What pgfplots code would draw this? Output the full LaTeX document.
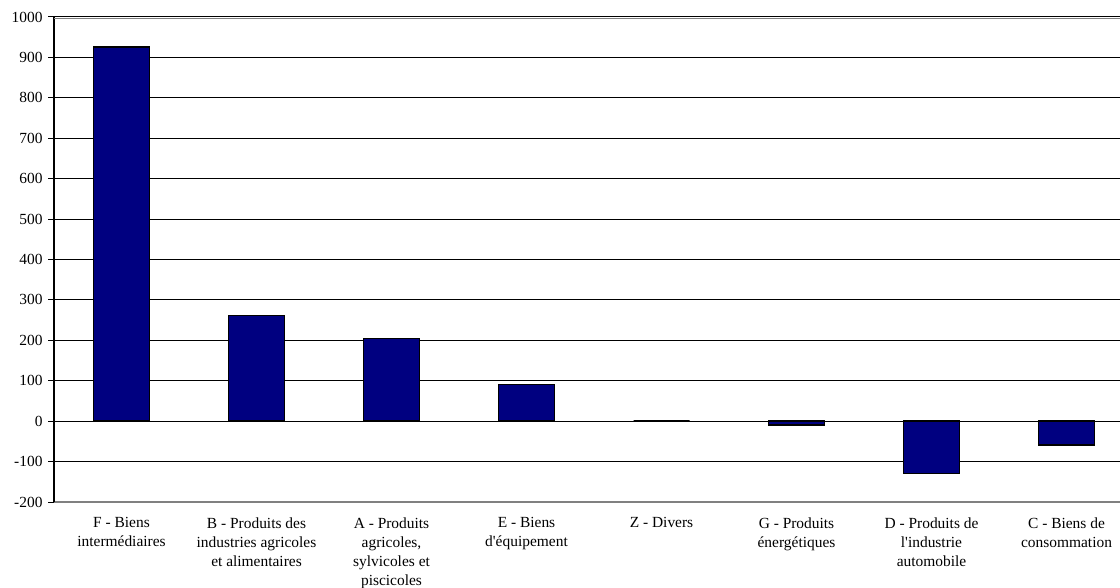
\documentclass[border=0pt]{standalone}
\usepackage{pgfplots}
\pgfplotsset{compat=1.18}
\usepackage{fontspec}
\setmainfont{Liberation Serif}
\definecolor{barblue}{HTML}{000080}
\begin{document}
\begin{tikzpicture}
\begin{axis}[
  scale only axis,
  width=1080bp, height=485bp,
  xmin=-0.5, xmax=7.5,
  ymin=-200, ymax=1000,
  ytick={-200,-100,0,100,200,300,400,500,600,700,800,900,1000},
  yticklabels={-200,-100,0,100,200,300,400,500,600,700,800,900,1000},
  xtick={0,...,7},
  xticklabels={
    {F - Biens\\intermédiaires},
    {B - Produits des\\industries agricoles\\et alimentaires},
    {A - Produits\\agricoles,\\sylvicoles et\\piscicoles},
    {E - Biens\\d\textquotesingle équipement},
    {Z - Divers},
    {G - Produits\\énergétiques},
    {D - Produits de\\l\textquotesingle industrie\\automobile},
    {C - Biens de\\consommation}},
  xticklabel style={align=center, font=\fontsize{15.5}{19}\selectfont, yshift=-6bp},
  yticklabel style={font=\fontsize{15.5}{17}\selectfont, xshift=-2bp},
  major x tick style={draw=none},
  ymajorgrids,
  grid style={black, line width=1bp},
  axis lines*=left,
  x axis line style={-, gray, line width=1.2bp},
  y axis line style={-, black, line width=1.2bp},
  ytick style={black, line width=1bp},
  tick align=outside,
  major tick length=6bp,
  clip=false,
]
\addplot[ybar, bar width=56bp, fill=barblue, draw=black, line width=1.5bp]
  coordinates {(0,926) (1,262) (2,204) (3,91) (4,0) (5,-10) (6,-129) (7,-59)};
\draw[gray, line width=1.5bp] ([yshift=-1.6bp]rel axis cs:0,1) -- ([yshift=-1.6bp]rel axis cs:1,1);
\coordinate (bl) at ([shift={(-54bp,-85bp)}]rel axis cs:0,0);
\coordinate (tr) at ([shift={(-14bp,17bp)}]rel axis cs:1,1);
\end{axis}
\pgfresetboundingbox
\path[use as bounding box] (bl) rectangle (tr);
\end{tikzpicture}
\end{document}
